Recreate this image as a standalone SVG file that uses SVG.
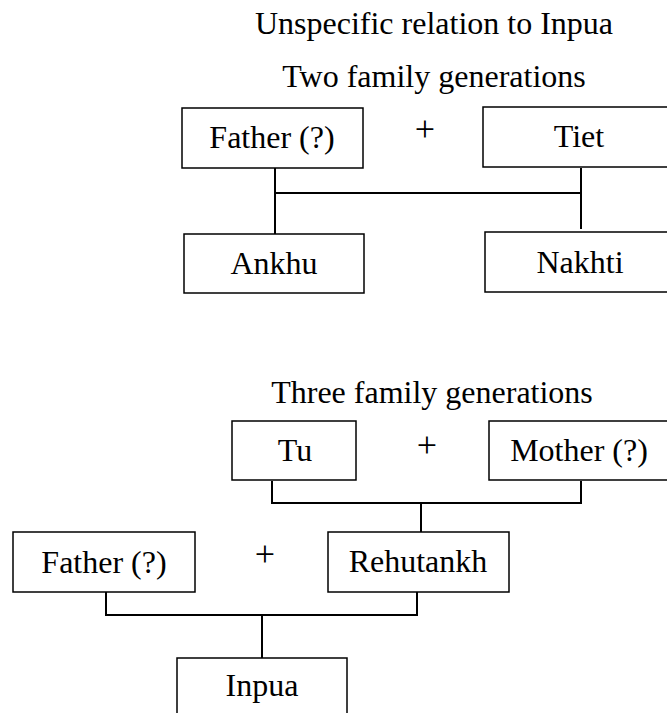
<svg xmlns="http://www.w3.org/2000/svg" width="667" height="713" viewBox="0 0 667 713">
<style>
text{font-family:"Liberation Serif","Times New Roman",serif;font-size:32px;fill:#000;text-anchor:middle}
text.plus{font-size:36px}
.box{fill:#fff;stroke:#000;stroke-width:1.5}
.conn{fill:none;stroke:#000;stroke-width:2}
</style>
<rect width="667" height="713" fill="#fff"/>
<text x="434" y="34">Unspecific relation to Inpua</text>
<text x="434" y="87">Two family generations</text>
<text x="432" y="403">Three family generations</text>
<text class="plus" x="425" y="141">+</text>
<text class="plus" x="427" y="457">+</text>
<text class="plus" x="265" y="566">+</text>
<g id="connectors">
<path class="conn" d="M275 168V234M275 193H581M581 168V229"/>
<path class="conn" d="M272 481V503H581V481M421 503V532"/>
<path class="conn" d="M106 592V615H417V592M262 615V658"/>
</g>
<g id="father1"><rect class="box" x="182" y="108" width="181" height="60"/><text x="272" y="148">Father (?)</text></g>
<g id="tiet"><rect class="box" x="483" y="107" width="200" height="60"/><text x="579" y="147">Tiet</text></g>
<g id="ankhu"><rect class="box" x="184" y="234" width="180" height="59"/><text x="274" y="274">Ankhu</text></g>
<g id="nakhti"><rect class="box" x="485" y="232" width="200" height="60"/><text x="580" y="273">Nakhti</text></g>
<g id="tu"><rect class="box" x="232" y="421" width="124" height="59"/><text x="295" y="461">Tu</text></g>
<g id="mother"><rect class="box" x="489" y="421" width="200" height="59"/><text x="579" y="461">Mother (?)</text></g>
<g id="father2"><rect class="box" x="13" y="532" width="182" height="60"/><text x="104" y="573">Father (?)</text></g>
<g id="rehutankh"><rect class="box" x="328" y="532" width="181" height="60"/><text x="418" y="572">Rehutankh</text></g>
<g id="inpua"><rect class="box" x="177" y="658" width="170" height="70"/><text x="262" y="696">Inpua</text></g>
</svg>
